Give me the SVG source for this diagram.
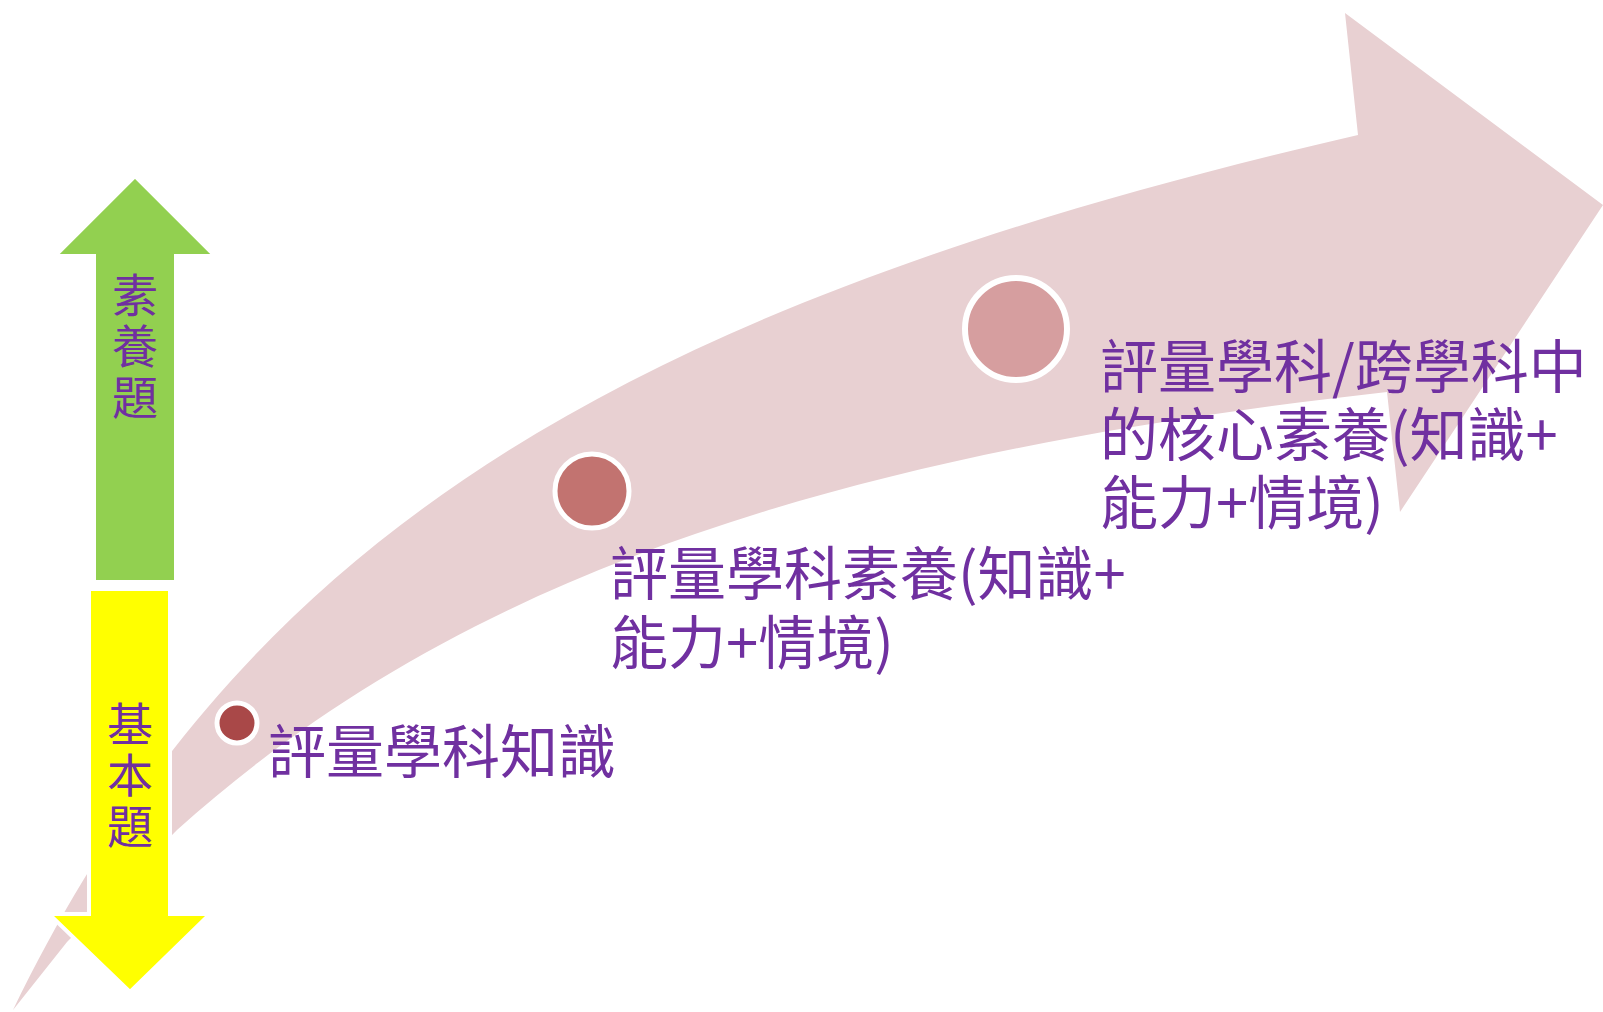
<svg xmlns="http://www.w3.org/2000/svg" width="1603" height="1012" viewBox="0 0 1603 1012">
<style>
.lbl{font-family:"Noto Sans CJK TC","Noto Sans CJK SC",sans-serif;font-size:58px;fill:#7030A0}
.vt{font-family:"Noto Sans CJK TC","Noto Sans CJK SC",sans-serif;font-size:46px;fill:#7030A0;writing-mode:vertical-rl;letter-spacing:5px}
.dot{stroke:#FFFFFF}
.updown{stroke:#FFFFFF;stroke-width:4}
</style>
<rect width="1603" height="1012" fill="#FFFFFF"/>
<g id="connectors">
<path id="big-arrow" d="M13,1010 C236,550 600,310 1358,135 L1345,13 L1603,205 L1400,512 L1387,392 C810,456 447,587 177,830 L67,942 Z" fill="#E8D0D2"/>
</g>
<g id="node-up">
<path class="updown" d="M135,176 L215,256 L176,256 L176,582 L94,582 L94,256 L55,256 Z" fill="#92D050"/>
<text class="vt" x="135" y="272">素養題</text>
</g>
<g id="node-down">
<path class="updown" d="M89,589 L170,589 L170,914 L210,914 L130,992 L49,914 L89,914 Z" fill="#FFFF00"/>
<text class="vt" x="130" y="701">基本題</text>
</g>
<g id="node-1">
<circle class="dot" cx="237" cy="723" r="20" stroke-width="5" fill="#A94848"/>
<text class="lbl" x="268" y="773">評量學科知識</text>
</g>
<g id="node-2">
<circle class="dot" cx="592" cy="491" r="37" stroke-width="5" fill="#C27370"/>
<text class="lbl" x="610" y="595"><tspan x="610" y="595">評量學科素養(知識+</tspan><tspan x="610" y="664">能力+情境)</tspan></text>
</g>
<g id="node-3">
<circle class="dot" cx="1016" cy="329" r="51" stroke-width="6" fill="#D69E9F"/>
<text class="lbl" x="1100" y="388"><tspan x="1100" y="388">評量學科/跨學科中</tspan><tspan x="1100" y="456">的核心素養(知識+</tspan><tspan x="1100" y="524">能力+情境)</tspan></text>
</g>
</svg>
